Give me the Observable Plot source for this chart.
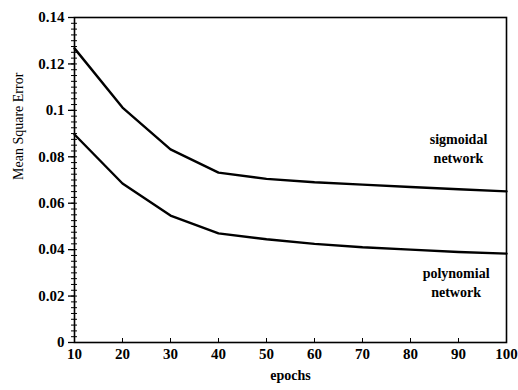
<!DOCTYPE html>
<html>
<head>
<meta charset="utf-8">
<script src="https://cdn.jsdelivr.net/npm/d3@7"></script>
<script src="https://cdn.jsdelivr.net/npm/@observablehq/plot@0.6"></script>
<style>
  html, body { margin: 0; padding: 0; background: #fff; }
  svg { display: block; }
</style>
</head>
<body>
<div id="chart"></div>
<script>
const epochs = [10, 20, 30, 40, 50, 60, 70, 80, 90, 100];
const sigmoidal = [0.1267, 0.1012, 0.0832, 0.0732, 0.0705, 0.0690, 0.0680, 0.0670, 0.0660, 0.0651];
const polynomial = [0.0896, 0.0685, 0.0547, 0.0470, 0.0445, 0.0425, 0.0410, 0.0400, 0.0390, 0.0383];
const xTicks = [10, 20, 30, 40, 50, 60, 70, 80, 90, 100];
const yTicks = [0, 0.02, 0.04, 0.06, 0.08, 0.1, 0.12, 0.14];
const seriesNames = ["sigmoidal", "polynomial"];
const labelLines = [["sigmoidal", "network"], ["polynomial", "network"]];
const labelAnchor = [{x: 90, y: 0.0840}, {x: 89.5, y: 0.0262}];

const rows = [];
seriesNames.forEach((s, i) => {
  const vals = i === 0 ? sigmoidal : polynomial;
  epochs.forEach((e, j) => rows.push({series: s, epoch: e, mse: vals[j]}));
});
const labels = labelLines.map((l, i) => ({text: l.join("\n"), ...labelAnchor[i]}));
const minorY = d3.range(0, 0.14 + 1e-9, 0.0025);

const font = "'Liberation Serif', 'DejaVu Serif', serif";

const chart = Plot.plot({
  width: 518,
  height: 390,
  marginLeft: 74,
  marginRight: 12,
  marginTop: 17,
  marginBottom: 48,
  style: {fontFamily: font, fontSize: "15px", fontWeight: "bold", color: "#000", background: "#fff"},
  x: {domain: [10, 100]},
  y: {domain: [0, 0.14]},
  marks: [
    Plot.frame({stroke: "#000", strokeWidth: 1.6}),
    Plot.axisY({ticks: minorY, tickSize: 3, text: null, label: null}),
    Plot.axisY({ticks: minorY, tickSize: -3, text: null, label: null}),
    Plot.axisY({ticks: yTicks, tickSize: 6, tickPadding: 4, label: null, strokeWidth: 1.3, fontSize: 15, tickFormat: d => String(d)}),
    Plot.axisX({ticks: xTicks, tickSize: -4, text: null, label: null}),
    Plot.axisX({ticks: xTicks, tickSize: 0, tickPadding: 6, label: null, fontSize: 15, tickFormat: d => String(d)}),
    Plot.line(rows, {x: "epoch", y: "mse", z: "series", stroke: "#000", strokeWidth: 2.4, curve: "linear"}),
    Plot.text(labels, {x: "x", y: "y", text: "text", fontSize: 14, fontWeight: "bold", lineHeight: 1.35, textAnchor: "middle"}),
    Plot.text(["Mean Square Error"], {frameAnchor: "left", dx: -56, rotate: -90, fontSize: 14, fontWeight: "normal", fill: "#000"}),
    Plot.text(["epochs"], {frameAnchor: "bottom", dy: 37, fontSize: 14, fontWeight: "bold"})
  ]
});
document.getElementById("chart").appendChild(chart);
</script>
</body>
</html>
